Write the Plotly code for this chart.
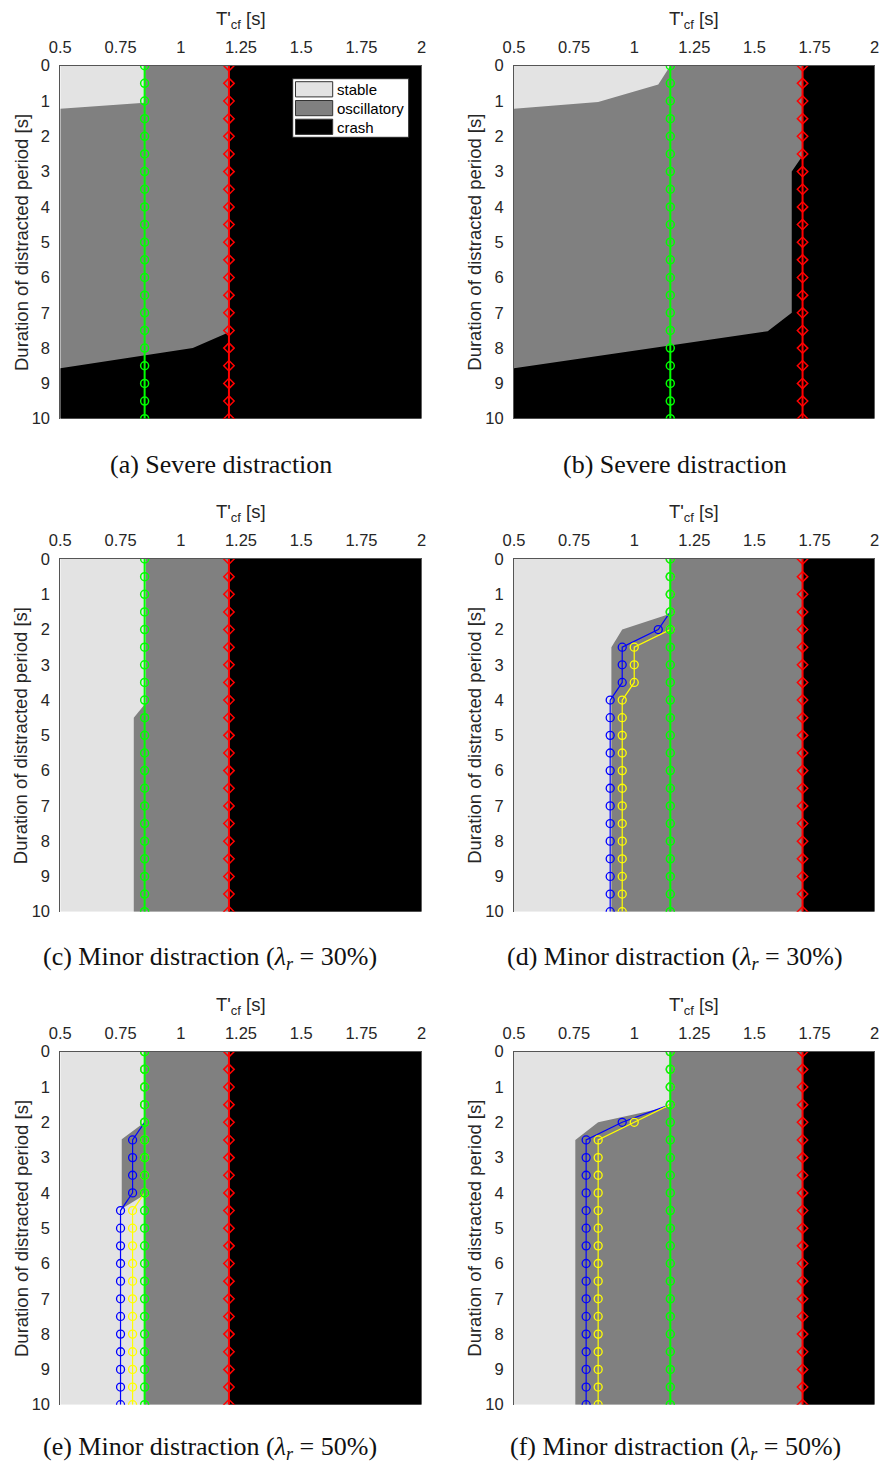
import plotly.graph_objects as go

# ---------------- data ----------------
DURATION = [0, 0.5, 1, 1.5, 2, 2.5, 3, 3.5, 4, 4.5, 5, 5.5, 6, 6.5, 7, 7.5, 8, 8.5, 9, 9.5, 10]
X_TICKS = [0.5, 0.75, 1, 1.25, 1.5, 1.75, 2]
X_TICK_TEXT = ["0.5", "0.75", "1", "1.25", "1.5", "1.75", "2"]
Y_TICKS = [0, 1, 2, 3, 4, 5, 6, 7, 8, 9, 10]
X_RANGE = [0.5, 2]
Y_RANGE = [0, 10]

GREEN_LOW = [0.85, 0.85, 0.85, 0.85, 0.85, 0.85, 0.85, 0.85, 0.85, 0.85, 0.85,
             0.85, 0.85, 0.85, 0.85, 0.85, 0.85, 0.85, 0.85, 0.85, 0.85]
RED_LOW = [1.2, 1.2, 1.2, 1.2, 1.2, 1.2, 1.2, 1.2, 1.2, 1.2, 1.2,
           1.2, 1.2, 1.2, 1.2, 1.2, 1.2, 1.2, 1.2, 1.2, 1.2]
GREEN_HIGH = [1.15, 1.15, 1.15, 1.15, 1.15, 1.15, 1.15, 1.15, 1.15, 1.15, 1.15,
              1.15, 1.15, 1.15, 1.15, 1.15, 1.15, 1.15, 1.15, 1.15, 1.15]
RED_HIGH = [1.7, 1.7, 1.7, 1.7, 1.7, 1.7, 1.7, 1.7, 1.7, 1.7, 1.7,
            1.7, 1.7, 1.7, 1.7, 1.7, 1.7, 1.7, 1.7, 1.7, 1.7]

D_BLUE = [1.15, 1.15, 1.15, 1.15, 1.1, 0.95, 0.95, 0.95, 0.9, 0.9, 0.9,
          0.9, 0.9, 0.9, 0.9, 0.9, 0.9, 0.9, 0.9, 0.9, 0.9]
D_YELLOW = [1.15, 1.15, 1.15, 1.15, 1.15, 1.0, 1.0, 1.0, 0.95, 0.95, 0.95,
            0.95, 0.95, 0.95, 0.95, 0.95, 0.95, 0.95, 0.95, 0.95, 0.95]
E_BLUE = [0.85, 0.85, 0.85, 0.85, 0.85, 0.8, 0.8, 0.8, 0.8, 0.75, 0.75,
          0.75, 0.75, 0.75, 0.75, 0.75, 0.75, 0.75, 0.75, 0.75, 0.75]
E_YELLOW = [0.85, 0.85, 0.85, 0.85, 0.85, 0.85, 0.85, 0.85, 0.85, 0.8, 0.8,
            0.8, 0.8, 0.8, 0.8, 0.8, 0.8, 0.8, 0.8, 0.8, 0.8]
F_BLUE = [1.15, 1.15, 1.15, 1.15, 0.95, 0.8, 0.8, 0.8, 0.8, 0.8, 0.8,
          0.8, 0.8, 0.8, 0.8, 0.8, 0.8, 0.8, 0.8, 0.8, 0.8]
F_YELLOW = [1.15, 1.15, 1.15, 1.15, 1.0, 0.85, 0.85, 0.85, 0.85, 0.85, 0.85,
            0.85, 0.85, 0.85, 0.85, 0.85, 0.85, 0.85, 0.85, 0.85, 0.85]

# region boundaries (stable/oscillatory and oscillatory/crash), top to bottom
A_STABLE_X = [0.85, 0.85, 0.5, 0.5]
A_STABLE_Y = [0, 1.05, 1.22, 10]
A_CRASH_X = [1.2, 1.2, 1.05, 0.5, 0.5]
A_CRASH_Y = [0, 7.55, 8.0, 8.57, 10]

B_STABLE_X = [1.15, 1.1, 0.85, 0.5, 0.5]
B_STABLE_Y = [0, 0.53, 1.03, 1.22, 10]
B_CRASH_X = [1.7, 1.7, 1.655, 1.655, 1.555, 0.5, 0.5]
B_CRASH_Y = [0, 2.55, 3.0, 7.0, 7.52, 8.57, 10]

C_STABLE_X = [0.855, 0.855, 0.805, 0.805]
C_STABLE_Y = [0, 4.08, 4.5, 10]
C_CRASH_X = [1.2, 1.2]
C_CRASH_Y = [0, 10]

D_STABLE_X = [1.15, 1.15, 0.95, 0.905, 0.905]
D_STABLE_Y = [0, 1.55, 2.0, 2.5, 10]
D_CRASH_X = [1.7, 1.7]
D_CRASH_Y = [0, 10]

E_STABLE_X = [0.85, 0.85, 0.755, 0.755, 0.85, 0.85]
E_STABLE_Y = [0, 2.0, 2.48, 4.45, 4.05, 10]
E_CRASH_X = [1.2, 1.2]
E_CRASH_Y = [0, 10]

F_STABLE_X = [1.15, 1.15, 0.85, 0.755, 0.755]
F_STABLE_Y = [0, 1.55, 2.0, 2.5, 10]
F_CRASH_X = [1.7, 1.7]
F_CRASH_Y = [0, 10]

CAPTIONS = [
    "(a) Severe distraction",
    "(b) Severe distraction",
    "(c) Minor distraction (<i>λ</i><sub><i>r</i></sub> = 30%)",
    "(d) Minor distraction (<i>λ</i><sub><i>r</i></sub> = 30%)",
    "(e) Minor distraction (<i>λ</i><sub><i>r</i></sub> = 50%)",
    "(f) Minor distraction (<i>λ</i><sub><i>r</i></sub> = 50%)",
]
LEGEND_LABELS = ["stable", "oscillatory", "crash"]

PANELS = [
    dict(stable=(A_STABLE_X, A_STABLE_Y), crash=(A_CRASH_X, A_CRASH_Y), green=GREEN_LOW, red=RED_LOW, blue=None, yellow=None),
    dict(stable=(B_STABLE_X, B_STABLE_Y), crash=(B_CRASH_X, B_CRASH_Y), green=GREEN_HIGH, red=RED_HIGH, blue=None, yellow=None),
    dict(stable=(C_STABLE_X, C_STABLE_Y), crash=(C_CRASH_X, C_CRASH_Y), green=GREEN_LOW, red=RED_LOW, blue=None, yellow=None),
    dict(stable=(D_STABLE_X, D_STABLE_Y), crash=(D_CRASH_X, D_CRASH_Y), green=GREEN_HIGH, red=RED_HIGH, blue=D_BLUE, yellow=D_YELLOW),
    dict(stable=(E_STABLE_X, E_STABLE_Y), crash=(E_CRASH_X, E_CRASH_Y), green=GREEN_LOW, red=RED_LOW, blue=E_BLUE, yellow=E_YELLOW),
    dict(stable=(F_STABLE_X, F_STABLE_Y), crash=(F_CRASH_X, F_CRASH_Y), green=GREEN_HIGH, red=RED_HIGH, blue=F_BLUE, yellow=F_YELLOW),
]

# ---------------- style / layout ----------------
W, H = 879, 1466
COL_LEFT = [60.3, 514.0]
COL_RIGHT = [421.7, 874.7]
ROW_TOP = [65.7, 559.0, 1051.7]
ROW_BOTTOM = [418.7, 911.7, 1404.7]
CAPTION_CX = [221, 675, 210, 675, 210, 675]
CAPTION_DY = [46, 46, 46, 46, 43.5, 43.5]

C_STABLE = "#e3e3e3"
C_OSC = "#808080"
C_CRASH = "#000000"
TEXT = "#262626"
SANS = "Liberation Sans, Arial, sans-serif"
SERIF = "Liberation Serif, Times New Roman, serif"
TICK_SIZE = 16.5
LABEL_SIZE = 18.5


def px(x):
    return x / W


def py(y):
    return 1 - y / H


fig = go.Figure()
annotations = []
shapes = []

for i, p in enumerate(PANELS):
    r, c = divmod(i, 2)
    xa = "x" if i == 0 else f"x{i+1}"
    ya = "y" if i == 0 else f"y{i+1}"

    # stable background (whole axes area)
    fig.add_trace(go.Scatter(
        x=[X_RANGE[0], X_RANGE[1], X_RANGE[1], X_RANGE[0]],
        y=[Y_RANGE[0], Y_RANGE[0], Y_RANGE[1], Y_RANGE[1]],
        fill="toself", fillcolor=C_STABLE, mode="none", xaxis=xa, yaxis=ya,
        hoverinfo="skip"))
    # oscillatory (right of stable boundary)
    sx, sy = p["stable"]
    fig.add_trace(go.Scatter(
        x=list(sx) + [X_RANGE[1], X_RANGE[1]],
        y=list(sy) + [Y_RANGE[1], Y_RANGE[0]],
        fill="toself", fillcolor=C_OSC, mode="none", xaxis=xa, yaxis=ya,
        hoverinfo="skip"))
    # crash (right of crash boundary)
    cx, cy = p["crash"]
    fig.add_trace(go.Scatter(
        x=list(cx) + [X_RANGE[1], X_RANGE[1]],
        y=list(cy) + [Y_RANGE[1], Y_RANGE[0]],
        fill="toself", fillcolor=C_CRASH, mode="none", xaxis=xa, yaxis=ya,
        hoverinfo="skip"))

    if p["blue"] is not None:
        fig.add_trace(go.Scatter(
            x=p["blue"], y=DURATION, mode="lines+markers", xaxis=xa, yaxis=ya,
            line=dict(color="#0000ff", width=1.2),
            marker=dict(symbol="circle-open", size=8, color="#0000ff", line=dict(width=1.3))))
        fig.add_trace(go.Scatter(
            x=p["yellow"], y=DURATION, mode="lines+markers", xaxis=xa, yaxis=ya,
            line=dict(color="#ffff00", width=1.2),
            marker=dict(symbol="circle-open", size=8, color="#ffff00", line=dict(width=1.3))))

    fig.add_trace(go.Scatter(
        x=p["green"], y=DURATION, mode="lines+markers", xaxis=xa, yaxis=ya,
        line=dict(color="#00ff00", width=2),
        marker=dict(symbol="circle-open", size=8, color="#00ff00", line=dict(width=1.5))))
    fig.add_trace(go.Scatter(
        x=p["red"], y=DURATION, mode="lines+markers", xaxis=xa, yaxis=ya,
        line=dict(color="#ff0000", width=2),
        marker=dict(symbol="diamond-open", size=8, color="#ff0000", line=dict(width=1.5))))

    xkey = "xaxis" if i == 0 else f"xaxis{i+1}"
    ykey = "yaxis" if i == 0 else f"yaxis{i+1}"
    fig.update_layout(**{
        xkey: dict(domain=[px(COL_LEFT[c]), px(COL_RIGHT[c])], anchor=ya, side="top",
                   range=X_RANGE, tickvals=X_TICKS, ticktext=X_TICK_TEXT, automargin=False,
                   showgrid=False, zeroline=False, showline=True, linecolor="#555555", linewidth=1,
                   ticks="", ticklabelstandoff=5, ticklabeloverflow="allow",
                   tickfont=dict(family=SANS, size=TICK_SIZE, color=TEXT), fixedrange=True),
        ykey: dict(domain=[py(ROW_BOTTOM[r]), py(ROW_TOP[r])], anchor=xa, automargin=False,
                   range=[Y_RANGE[1], Y_RANGE[0]], tickvals=Y_TICKS,
                   showgrid=False, zeroline=False, showline=True, linecolor="#555555", linewidth=1,
                   ticks="", ticklabelstandoff=6, ticklabeloverflow="allow",
                   tickfont=dict(family=SANS, size=TICK_SIZE, color=TEXT), fixedrange=True),
    })

    cxp = (COL_LEFT[c] + COL_RIGHT[c]) / 2
    cyp = (ROW_TOP[r] + ROW_BOTTOM[r]) / 2
    # x title (top)
    annotations.append(dict(text="T'<sub>cf</sub> [s]", x=px(cxp), y=py(ROW_TOP[r] - 46),
                            xref="paper", yref="paper", showarrow=False,
                            xanchor="center", yanchor="middle",
                            font=dict(family=SANS, size=LABEL_SIZE, color=TEXT)))
    # y title
    annotations.append(dict(text="Duration of distracted period [s]",
                            x=px(COL_LEFT[c] - 39.5), y=py(cyp),
                            xref="paper", yref="paper", showarrow=False, textangle=-90,
                            xanchor="center", yanchor="middle",
                            font=dict(family=SANS, size=LABEL_SIZE, color=TEXT)))
    # caption
    annotations.append(dict(text=CAPTIONS[i], x=px(CAPTION_CX[i]), y=py(ROW_BOTTOM[r] + CAPTION_DY[i]),
                            xref="paper", yref="paper", showarrow=False,
                            xanchor="center", yanchor="middle",
                            font=dict(family=SERIF, size=26, color="#111111")))

# legend in panel (a)
LEG_BOX = (292.7, 78.7, 408.7, 137.3)
shapes.append(dict(type="rect", xref="paper", yref="paper",
                   x0=px(LEG_BOX[0]), x1=px(LEG_BOX[2]), y0=py(LEG_BOX[3]), y1=py(LEG_BOX[1]),
                   fillcolor="white", line=dict(color="#262626", width=1)))
leg_cols = [C_STABLE, C_OSC, C_CRASH]
row_tops = [81.7, 100.5, 119.2]
for k in range(3):
    shapes.append(dict(type="rect", xref="paper", yref="paper",
                       x0=px(295.5), x1=px(332.7), y0=py(row_tops[k] + 15.2), y1=py(row_tops[k]),
                       fillcolor=leg_cols[k], line=dict(color="#333333", width=1)))
    annotations.append(dict(text=LEGEND_LABELS[k], x=px(334.5), y=py(row_tops[k] + 7.8),
                            xref="paper", yref="paper", showarrow=False,
                            xanchor="left", yanchor="middle",
                            font=dict(family=SANS, size=15, color="#000000")))

fig.update_layout(template="none", width=W, height=H,
                  margin=dict(l=0, r=0, t=0, b=0, autoexpand=False),
                  paper_bgcolor="white", plot_bgcolor="white", showlegend=False,
                  annotations=annotations, shapes=shapes,
                  font=dict(family=SANS, size=16, color=TEXT))

# remove the default page margin so the figure sits at the window origin
fig.write_html("out.html",
               config={"displayModeBar": False, "staticPlot": True},
               post_script="document.body.style.margin='0';document.body.style.overflow='hidden';")
